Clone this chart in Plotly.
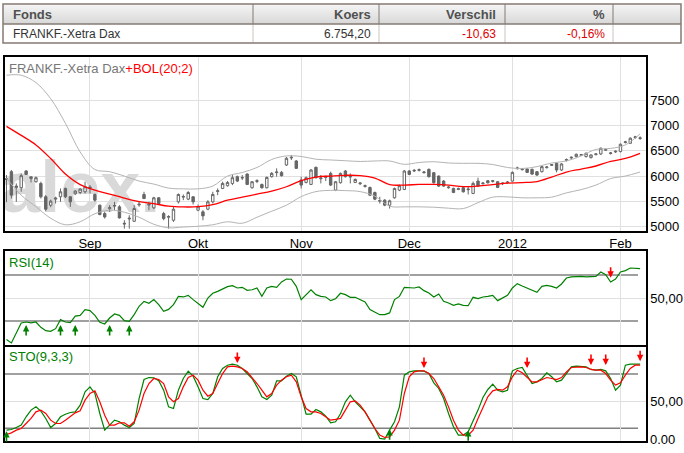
import pandas as pd
import plotly.graph_objects as go

W, H = 684, 453

# Xetra trading days shown (9 Aug 2011 .. 7 Feb 2012, closed 26 Dec)
days = pd.bdate_range("2011-08-09", "2012-02-07")
days = days[days != pd.Timestamp("2011-12-26")]
DATES = [d.strftime("%Y-%m-%d") for d in days]

MONTH_TICKS = ["2011-09-01", "2011-10-03", "2011-11-01", "2011-12-01", "2012-01-02", "2012-02-01"]
MONTH_LABELS = ["Sep", "Okt", "Nov", "Dec", "2012", "Feb"]

TABLE_HEAD = ["Fonds", "Koers", "Verschil", "%"]
TABLE_ROW = ["FRANKF.-Xetra Dax", "6.754,20", "-10,63", "-0,16%"]

# daily candles
OPEN = [5950, 6087, 5770, 5767, 6100, 5950, 5887, 5853, 5587, 5420,
        5540, 5587, 5753, 5587, 5647, 5673, 5687, 5780, 5633, 5420,
        5253, 5350, 5400, 5387, 5060, 5145, 5100, 5425, 5633, 5440,
        5367, 5567, 5253, 5180, 5120, 5487, 5580, 5540, 5587, 5320,
        5287, 5340, 5487, 5693, 5753, 5807, 5853, 5987, 5960, 6040,
        5767, 5893, 5833, 5767, 5987, 6067, 6073, 6220, 6360, 6300,
        5920, 5873, 5833, 6173, 5947, 5973, 6053, 5720, 5867, 6100,
        5980, 5873, 5847, 5793, 5773, 5673, 5500, 5520, 5420, 5567,
        5720, 5733, 6100, 6100, 6113, 6067, 6133, 6067, 6000, 5900,
        5767, 5753, 5733, 5767, 5727, 5653, 5900, 5847, 5907, 5893,
        5887, 5847, 5867, 5900, 6147, 6127, 6140, 6133, 6087, 6087,
        6167, 6213, 6253, 6120, 6313, 6360, 6387, 6413, 6387, 6367,
        6427, 6440, 6513, 6447, 6480, 6487, 6667, 6653, 6767, 6747]
HIGH = [6020, 6120, 5853, 6053, 6120, 6000, 5990, 5887, 5620, 5530,
        5587, 5753, 5770, 5600, 5720, 5760, 5887, 5820, 5653, 5430,
        5287, 5420, 5487, 5420, 5120, 5220, 5420, 5487, 5687, 5487,
        5587, 5580, 5287, 5220, 5387, 5653, 5633, 5700, 5600, 5433,
        5320, 5520, 5687, 5753, 5887, 5900, 6020, 6010, 6020, 6053,
        5900, 5935, 5850, 5990, 6080, 6153, 6100, 6380, 6420, 6320,
        5987, 5990, 6140, 6190, 6020, 6010, 6087, 5900, 6070, 6120,
        6053, 5950, 5880, 5830, 5790, 5690, 5587, 5540, 5530, 5770,
        5830, 6120, 6120, 6140, 6150, 6100, 6150, 6080, 6010, 5920,
        5800, 5770, 5770, 5780, 5787, 5890, 5967, 5880, 5920, 5920,
        5900, 5870, 5900, 6090, 6187, 6160, 6160, 6150, 6100, 6200,
        6200, 6240, 6270, 6260, 6350, 6390, 6450, 6440, 6470, 6430,
        6450, 6570, 6550, 6480, 6510, 6650, 6700, 6770, 6800, 6790]
LOW = [5480, 5553, 5487, 5687, 6020, 5873, 5870, 5553, 5300, 5380,
       5453, 5487, 5560, 5387, 5620, 5640, 5653, 5653, 5487, 5220,
       5153, 5287, 5320, 5153, 4953, 4953, 5087, 5387, 5540, 5320,
       5340, 5440, 5120, 4953, 5087, 5453, 5520, 5520, 5433, 5300,
       5120, 5320, 5453, 5620, 5740, 5790, 5820, 5880, 5920, 5820,
       5750, 5860, 5750, 5753, 5970, 5987, 5990, 6200, 6320, 6140,
       5753, 5853, 5820, 5950, 5853, 5900, 5800, 5700, 5850, 5970,
       5853, 5860, 5820, 5770, 5600, 5520, 5453, 5400, 5353, 5550,
       5700, 5720, 6020, 6080, 6090, 6050, 5970, 5850, 5785, 5785,
       5750, 5660, 5720, 5670, 5633, 5640, 5787, 5830, 5850, 5870,
       5760, 5820, 5850, 5890, 6130, 6110, 6060, 6020, 6000, 6070,
       6150, 6200, 6073, 6100, 6290, 6340, 6370, 6400, 6370, 6350,
       6410, 6420, 6500, 6430, 6460, 6470, 6650, 6640, 6740, 6720]
CLOSE = [5930, 5620, 5800, 6007, 6033, 5985, 5967, 5587, 5340, 5500,
         5560, 5687, 5587, 5487, 5700, 5740, 5787, 5760, 5520, 5233,
         5187, 5370, 5413, 5167, 5047, 5160, 5353, 5440, 5553, 5427,
         5567, 5453, 5153, 5193, 5340, 5633, 5593, 5673, 5487, 5387,
         5207, 5487, 5633, 5707, 5853, 5873, 5967, 5900, 5970, 5833,
         5887, 5907, 5767, 5973, 6053, 6080, 6007, 6353, 6373, 6153,
         5820, 5967, 6120, 5967, 5960, 5987, 5820, 5887, 6053, 5987,
         5993, 5933, 5860, 5807, 5620, 5540, 5513, 5420, 5507, 5753,
         5807, 6100, 6033, 6113, 6127, 6080, 5987, 5867, 5800, 5800,
         5780, 5673, 5747, 5687, 5740, 5853, 5800, 5860, 5867, 5907,
         5773, 5860, 5880, 6073, 6160, 6140, 6073, 6040, 6020, 6187,
         6180, 6227, 6120, 6240, 6327, 6373, 6433, 6427, 6453, 6420,
         6440, 6553, 6527, 6460, 6493, 6633, 6680, 6753, 6780, 6760]

# Bollinger (20;2) read every third day
BAND_IDX = list(range(0, 130, 3))
BOL_MID = [6990, 6810, 6620, 6350, 6040, 5830, 5720, 5640, 5560, 5490, 5450,
           5400, 5385, 5390, 5430, 5520, 5580, 5640, 5700, 5787, 5910, 5980,
           6000, 6015, 6010, 5960, 5830, 5820, 5833, 5833, 5820, 5790, 5800,
           5830, 5860, 5870, 5890, 5980, 6080, 6140, 6200, 6290, 6350, 6453]
BOL_UP = [8007, 8007, 7860, 7540, 7050, 6480, 6130, 6087, 6000, 5900, 5840,
          5760, 5745, 5745, 5800, 6000, 6070, 6170, 6330, 6400, 6390, 6335,
          6320, 6305, 6290, 6300, 6300, 6233, 6270, 6285, 6260, 6253, 6253,
          6230, 6170, 6150, 6187, 6260, 6300, 6400, 6530, 6550, 6620, 6840]
BOL_LOW = [5960, 5620, 5390, 5160, 5030, 5090, 5250, 5320, 5280, 5180, 5040,
           4970, 4985, 5000, 5030, 5090, 5060, 5180, 5300, 5420, 5590, 5690,
           5715, 5710, 5690, 5600, 5400, 5387, 5387, 5380, 5360, 5353, 5470,
           5580, 5585, 5567, 5567, 5580, 5665, 5730, 5820, 5950, 6000, 6080]

RSI = [13.8, 10.9, 19.6, 28.3, 29.1, 28.3, 29.1, 24.5, 21.6, 21.0,
       23.3, 31.2, 29.1, 28.6, 34.3, 34.9, 39.9, 39.0, 34.9, 28.8,
       27.4, 32.6, 36.1, 34.9, 30.3, 29.7, 35.5, 42.8, 47.1, 45.4,
       48.6, 44.2, 38.4, 40.1, 44.2, 51.4, 50.9, 52.3, 48.6, 45.4,
       41.9, 50.0, 54.1, 55.8, 57.8, 59.9, 60.7, 58.7, 59.3, 56.7,
       57.2, 58.7, 51.4, 58.7, 60.1, 59.3, 64.0, 66.5, 66.3, 60.1,
       48.6, 52.9, 57.2, 52.9, 51.4, 50.9, 47.7, 49.4, 54.1, 52.9,
       50.6, 50.6, 48.6, 46.5, 39.9, 37.5, 35.5, 35.5, 37.0, 48.6,
       51.4, 59.3, 58.7, 58.7, 59.6, 56.4, 54.3, 50.9, 53.5, 47.1,
       45.7, 43.6, 44.8, 43.6, 43.3, 50.6, 49.4, 50.9, 51.4, 52.3,
       47.7, 50.0, 52.3, 58.7, 62.5, 60.4, 58.7, 57.2, 54.9, 60.1,
       61.0, 60.1, 58.7, 62.2, 67.4, 68.3, 68.8, 68.8, 68.3, 68.6,
       68.8, 72.6, 70.3, 63.9, 66.5, 72.6, 73.8, 76.1, 76.1, 75.5]

STO_K = [18.0, 18.7, 20.9, 23.5, 32.7, 40.1, 43.7, 39.0, 30.9, 20.9,
         25.3, 32.7, 35.6, 37.5, 38.2, 45.6, 60.3, 65.8, 58.5, 36.4,
         18.0, 23.5, 29.0, 27.2, 23.5, 20.9, 25.3, 52.9, 73.9, 76.1,
         75.8, 72.5, 62.1, 43.7, 41.9, 62.1, 75.0, 83.1, 77.6, 65.8,
         52.9, 51.8, 58.5, 76.9, 86.1, 89.7, 90.9, 89.7, 86.1, 80.5,
         75.0, 65.8, 54.8, 51.8, 56.6, 72.5, 72.5, 77.6, 80.5, 76.9,
         56.6, 35.6, 35.6, 40.8, 38.2, 33.4, 26.1, 27.2, 36.0, 49.3,
         56.6, 49.3, 43.7, 38.2, 29.0, 19.8, 8.8, 8.0, 18.0, 27.2,
         43.7, 78.7, 82.4, 83.5, 83.5, 83.1, 80.5, 70.2, 64.0, 52.9,
         36.4, 21.7, 12.5, 12.5, 16.1, 27.2, 40.1, 54.0, 62.9, 68.8,
         62.1, 60.3, 62.1, 83.5, 86.1, 87.2, 78.7, 69.5, 71.3, 75.0,
         81.3, 76.9, 71.3, 73.2, 80.5, 87.9, 88.6, 88.6, 87.9, 85.0,
         84.2, 85.0, 83.5, 75.0, 62.1, 67.7, 89.7, 90.9, 90.9, 90.9]
STO_D = [13.2, 15.0, 18.0, 19.8, 25.3, 30.9, 38.2, 40.1, 36.4, 29.0,
         25.3, 25.3, 29.0, 33.4, 37.1, 39.3, 51.1, 58.5, 61.4, 49.3,
         34.5, 23.5, 23.5, 26.1, 26.1, 22.4, 27.2, 40.1, 58.5, 69.5,
         75.0, 73.9, 69.5, 54.8, 49.3, 52.9, 65.8, 76.1, 78.7, 73.2,
         62.1, 55.5, 58.5, 69.5, 80.5, 87.9, 88.6, 87.9, 86.1, 82.4,
         76.1, 69.5, 62.1, 54.8, 58.5, 67.7, 73.2, 76.9, 78.7, 71.3,
         54.8, 41.9, 38.2, 38.2, 36.4, 32.7, 29.0, 29.8, 31.0, 40.1,
         49.3, 50.4, 45.6, 38.2, 29.0, 19.8, 12.5, 9.9, 10.6, 18.0,
         29.0, 58.5, 76.9, 82.4, 83.5, 83.5, 80.5, 75.0, 65.8, 56.6,
         43.7, 29.0, 18.0, 12.5, 12.5, 18.0, 30.9, 43.7, 54.8, 61.4,
         62.9, 62.1, 65.8, 76.9, 84.2, 81.3, 76.1, 71.3, 71.3, 73.9,
         76.1, 75.0, 73.9, 76.1, 82.4, 87.2, 87.9, 87.9, 87.2, 85.0,
         84.2, 84.2, 80.5, 73.2, 67.7, 70.2, 78.7, 86.1, 89.7, 89.7]

# signal arrows (tip positions)
RSI_BUY_DATES = ["2011-08-15", "2011-08-24", "2011-08-29", "2011-09-07", "2011-09-13"]
RSI_BUY_VALUES = [26.5, 26.5, 26.5, 26.5, 26.5]
RSI_SELL_DATES = ["2012-01-30"]
RSI_SELL_VALUES = [67.7]
STO_SELL_DATES = ["2011-10-13", "2011-12-06", "2012-01-05", "2012-01-24", "2012-01-27", "2012-02-07"]
STO_SELL_VALUES = [92.0, 86.5, 86.5, 89.8, 89.8, 94.2]
STO_BUY_DATES = ["2011-08-09", "2011-11-25", "2011-12-19"]
STO_BUY_VALUES = [16.9, 19.1, 18.0]


def px(x):
    return x / W


def py(y):
    return (H - y) / H


FONT = "Liberation Sans"
GRID = "#e0e0e0"
CANDLE = "#666666"
GREEN = "#008000"
RED = "#ff0000"

band_x = [DATES[i] for i in BAND_IDX]

fig = go.Figure()

# watermark on the base subplot, the price traces sit on an overlay above it
fig.add_trace(go.Scatter(x=["2011-08-30"], y=[5650], mode="text", text=["alex."],
                         textfont=dict(size=72, color="#d9d9d9", family=FONT, weight="bold"),
                         hoverinfo="skip", xaxis="x", yaxis="y"))

fig.add_trace(go.Scatter(x=band_x, y=BOL_UP, mode="lines", line=dict(color="#b4b4b4", width=1, shape="spline"),
                         xaxis="x", yaxis="y4"))
fig.add_trace(go.Scatter(x=band_x, y=BOL_LOW, mode="lines", line=dict(color="#b4b4b4", width=1, shape="spline"),
                         xaxis="x", yaxis="y4"))
fig.add_trace(go.Scatter(x=band_x, y=BOL_MID, mode="lines", line=dict(color=RED, width=1.3, shape="spline"),
                         xaxis="x", yaxis="y4"))
fig.add_trace(go.Candlestick(x=DATES, open=OPEN, high=HIGH, low=LOW, close=CLOSE,
                             increasing=dict(line=dict(color=CANDLE, width=1), fillcolor="white"),
                             decreasing=dict(line=dict(color=CANDLE, width=1), fillcolor=CANDLE),
                             whiskerwidth=0, xaxis="x", yaxis="y4"))

fig.add_trace(go.Scatter(x=DATES, y=RSI, mode="lines", line=dict(color=GREEN, width=1.2),
                         xaxis="x2", yaxis="y2"))

fig.add_trace(go.Scatter(x=DATES, y=STO_K, mode="lines", line=dict(color=GREEN, width=1.2),
                         xaxis="x3", yaxis="y3"))
fig.add_trace(go.Scatter(x=DATES, y=STO_D, mode="lines", line=dict(color=RED, width=1.2),
                         xaxis="x3", yaxis="y3"))

xdom = [px(5), px(646)]
xcommon = dict(type="category", categoryorder="array", categoryarray=DATES,
               range=[-0.3, 130.2], tickvals=MONTH_TICKS, ticktext=MONTH_LABELS,
               showgrid=True, gridcolor=GRID, gridwidth=1, zeroline=False,
               showline=True, linecolor="black", linewidth=1.5, mirror=True,
               ticks="", domain=xdom, automargin=False,
               tickfont=dict(size=13, color="black", family=FONT))
ycommon = dict(side="right", showgrid=True, gridcolor=GRID, gridwidth=1, zeroline=False,
               showline=True, linecolor="black", linewidth=1.5, mirror=True,
               ticks="", automargin=False, tickfont=dict(size=13, color="black", family=FONT))

fig.update_layout(
    width=W, height=H,
    margin=dict(l=0, r=0, t=0, b=0),
    paper_bgcolor="white", plot_bgcolor="white",
    font=dict(family=FONT, size=13, color="black"),
    showlegend=False,
    xaxis=dict(xcommon, anchor="y"),
    xaxis2=dict(xcommon, anchor="y2", showticklabels=False),
    xaxis3=dict(xcommon, anchor="y3", showticklabels=False),
    yaxis=dict(ycommon, anchor="x", domain=[py(231), py(57)], range=[4906, 8370],
               tickvals=[5000, 5500, 6000, 6500, 7000, 7500]),
    yaxis4=dict(anchor="x", overlaying="y", range=[4906, 8370], visible=False),
    yaxis2=dict(ycommon, anchor="x2", domain=[py(345), py(251)], range=[9.1, 90.9],
                tickvals=[50], ticktext=["50,00"]),
    yaxis3=dict(ycommon, anchor="x3", domain=[py(441), py(347)], range=[6, 109.8],
                tickvals=[50], ticktext=["50,00"]),
)
fig.update_xaxes(rangeslider_visible=False)

shapes = []
# overbought / oversold lines
for yref, levels in (("y2", (70, 30)), ("y3", (80, 20))):
    for lv in levels:
        shapes.append(dict(type="line", xref="paper", yref=yref, x0=px(5), x1=px(638), y0=lv, y1=lv,
                           line=dict(color="#808080", width=1.5), layer="below"))

# quote table
border = "#857a73"
steps = 10
for k in range(steps):
    g = int(245 - (245 - 217) * k / (steps - 1))
    shapes.append(dict(type="rect", xref="paper", yref="paper",
                       x0=px(3), x1=px(681), y0=py(4 + 2 * k), y1=py(4 + 2 * (k + 1)),
                       fillcolor=f"rgb({g},{g},{g})", line=dict(width=0)))
for cx in (253, 379, 505, 613):
    shapes.append(dict(type="line", xref="paper", yref="paper", x0=px(cx), x1=px(cx), y0=py(4), y1=py(24),
                       line=dict(color=border, width=1)))
    shapes.append(dict(type="line", xref="paper", yref="paper", x0=px(cx), x1=px(cx), y0=py(24), y1=py(43),
                       line=dict(color="#c9c3be", width=1)))
shapes.append(dict(type="line", xref="paper", yref="paper", x0=px(3), x1=px(681), y0=py(24), y1=py(24),
                   line=dict(color=border, width=1.5)))
shapes.append(dict(type="rect", xref="paper", yref="paper", x0=px(3), x1=px(681), y0=py(43), y1=py(4),
                   line=dict(color=border, width=1.5)))
fig.update_layout(shapes=shapes)

ann = []
head_x = [(11, "left"), (373, "right"), (498, "right"), (607, "right")]
for (hx, anc), t in zip(head_x, TABLE_HEAD):
    ann.append(dict(xref="paper", yref="paper", x=px(hx), y=py(14), xanchor=anc, yanchor="middle",
                    text=f"<b>{t}</b>", showarrow=False, font=dict(size=13, color="#505050")))
row_col = ["#333333", "#333333", "#e00000", "#e00000"]
for (hx, anc), t, c in zip(head_x, TABLE_ROW, row_col):
    ann.append(dict(xref="paper", yref="paper", x=px(hx), y=py(34), xanchor=anc, yanchor="middle",
                    text=t, showarrow=False, font=dict(size=12, color=c)))

# panel titles
ann.append(dict(xref="paper", yref="paper", x=px(7), y=py(68), xanchor="left", yanchor="middle", showarrow=False,
                text="<span style='color:#777777'>FRANKF.-Xetra Dax</span><span style='color:#ff0000'>+BOL(20;2)</span>",
                font=dict(size=13)))
ann.append(dict(xref="paper", yref="paper", x=px(7), y=py(262), xanchor="left", yanchor="middle", showarrow=False,
                text="RSI(14)", font=dict(size=13, color=GREEN)))
ann.append(dict(xref="paper", yref="paper", x=px(7), y=py(356), xanchor="left", yanchor="middle", showarrow=False,
                text="STO(9,3,3)", font=dict(size=13, color=GREEN)))
ann.append(dict(xref="paper", yref="paper", x=px(648), y=py(439), xanchor="left", yanchor="middle", showarrow=False,
                text="0.00", font=dict(size=13, color="black")))


def arrow(xr, yr, d, v, color, up):
    return dict(xref=xr, yref=yr, x=d, y=v, ax=0, ay=12 if up else -12, showarrow=True,
                arrowhead=2, arrowsize=0.8, arrowwidth=1.6, arrowcolor=color, text="", standoff=0)


for d, v in zip(RSI_BUY_DATES, RSI_BUY_VALUES):
    ann.append(arrow("x2", "y2", d, v, GREEN, True))
for d, v in zip(RSI_SELL_DATES, RSI_SELL_VALUES):
    ann.append(arrow("x2", "y2", d, v, RED, False))
for d, v in zip(STO_BUY_DATES, STO_BUY_VALUES):
    ann.append(arrow("x3", "y3", d, v, GREEN, True))
for d, v in zip(STO_SELL_DATES, STO_SELL_VALUES):
    ann.append(arrow("x3", "y3", d, v, RED, False))

fig.update_layout(annotations=ann)

# the page's default body margin would push the 684x453 figure off the window
fig.write_html("out.html", config={"displayModeBar": False},
               post_script="document.body.style.margin='0';")
